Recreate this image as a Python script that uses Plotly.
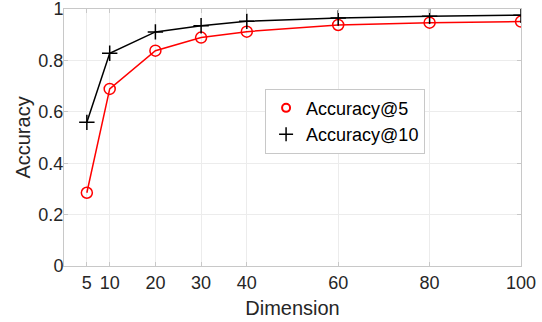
import plotly.graph_objects as go

dimension = [5, 10, 20, 30, 40, 60, 80, 100]
acc5 = [0.285, 0.689, 0.838, 0.889, 0.912, 0.938, 0.947, 0.951]
acc10 = [0.559, 0.828, 0.911, 0.935, 0.952, 0.965, 0.972, 0.976]
x_ticks = [5, 10, 20, 30, 40, 60, 80, 100]
y_ticks = [0, 0.2, 0.4, 0.6, 0.8, 1]
series_names = ["Accuracy@5", "Accuracy@10"]

font_family = "Liberation Sans, Arial, sans-serif"

fig = go.Figure()
fig.add_trace(go.Scatter(
    x=dimension, y=acc5, mode="lines+markers", name=series_names[0], showlegend=False,
    line=dict(color="#ff0000", width=1.5),
    marker=dict(symbol="circle-open", size=11, color="#ff0000", line=dict(width=1.5)),
))
fig.add_trace(go.Scatter(
    x=dimension, y=acc10, mode="lines+markers", name=series_names[1], showlegend=False,
    line=dict(color="#000000", width=1.5),
    marker=dict(symbol="cross-thin-open", size=11, color="#000000", line=dict(width=1.5, color="#000000")),
))
# legend entries (marker only, like the reference)
fig.add_trace(go.Scatter(
    x=[None], y=[None], mode="markers", name=series_names[0],
    marker=dict(symbol="circle-open", size=8, color="#ff0000", line=dict(width=2)),
))
fig.add_trace(go.Scatter(
    x=[None], y=[None], mode="markers", name=series_names[1],
    marker=dict(symbol="cross-thin-open", size=10, color="#000000", line=dict(width=1.5, color="#000000")),
))

axis_common = dict(
    showline=True, linecolor="#c8c8c8", linewidth=1, mirror="ticks",
    ticks="inside", ticklen=4, tickcolor="#c8c8c8",
    showgrid=True, gridcolor="#ececec", gridwidth=1, zeroline=False,
    tickfont=dict(family=font_family, size=18, color="#262626"),
    automargin=False, ticklabeloverflow="allow",
)

fig.update_layout(
    width=542, height=322,
    margin=dict(l=64, r=21, t=9, b=56),
    paper_bgcolor="white", plot_bgcolor="white",
    font=dict(family=font_family, color="#262626"),
    xaxis=dict(range=[0, 100], tickvals=x_ticks, ticktext=[str(v) for v in x_ticks],
               title=dict(text="Dimension", font=dict(size=20, color="#262626"), standoff=9),
               **axis_common),
    yaxis=dict(range=[0, 1.0001], tickvals=y_ticks, ticktext=["0", "0.2", "0.4", "0.6", "0.8", "1"],
               title=dict(text="Accuracy", font=dict(size=20, color="#262626"), standoff=2),
               ticklabelstandoff=-4,
               **axis_common),
    legend=dict(x=0.44, y=0.69, xanchor="left", yanchor="top",
                bgcolor="white", bordercolor="#c8c8c8", borderwidth=1,
                font=dict(family=font_family, size=18, color="#000000"),
                itemwidth=30, tracegroupgap=0),
    showlegend=True,
)

fig.write_html("out.html", config={"displayModeBar": False},
               post_script="document.body.style.margin='0px';document.body.style.padding='0px';")
